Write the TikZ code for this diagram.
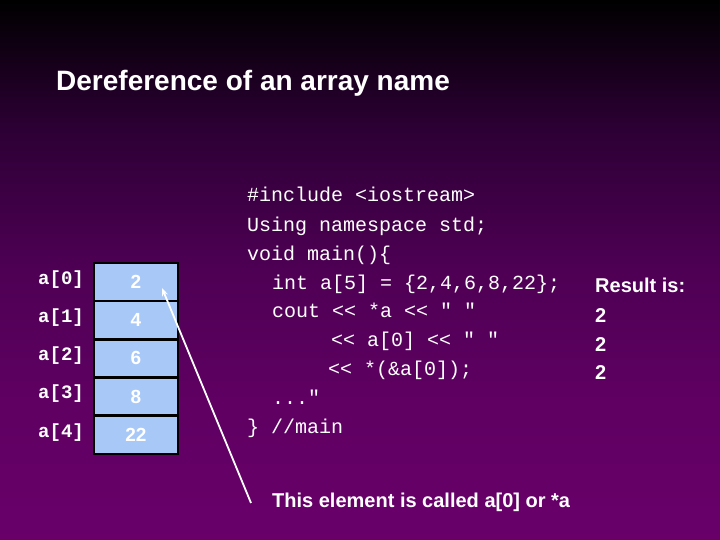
\documentclass[tikz,border=0pt]{standalone}
\usepackage{fontspec}
\setmainfont{Liberation Sans}
\setmonofont{Liberation Mono}
\usetikzlibrary{arrows.meta}
\definecolor{bgA}{RGB}{105,0,106}
\definecolor{bgB}{RGB}{95,0,98}
\definecolor{bgC}{RGB}{78,0,84}
\definecolor{bgD}{RGB}{45,0,53}
\definecolor{cellblue}{RGB}{168,200,248}
\pgfdeclareverticalshading{slidebg}{100bp}{color(0bp)=(bgA); color(25bp)=(bgA); color(37.96bp)=(bgB); color(50bp)=(bgC); color(62.96bp)=(bgD); color(75bp)=(black); color(100bp)=(black)}
\tikzset{
  cell/.style={draw=black, line width=2.5pt, fill=cellblue, minimum width=84pt,
    minimum height=38.2pt, inner sep=0pt, text=white,
    font=\bfseries\fontsize{19}{19}\selectfont},
  idxlabel/.style={anchor=base west, inner sep=0pt, text=white,
    font=\ttfamily\bfseries\fontsize{19}{19}\selectfont},
  codeline/.style={anchor=base west, inner sep=0pt, text=white,
    font=\ttfamily\fontsize{20}{20}\selectfont},
  bold20/.style={anchor=base west, inner sep=0pt, text=white,
    font=\bfseries\fontsize{20}{20}\selectfont},
  ptrarrow/.style={draw=white, line width=1.8pt, -{Stealth[length=8pt,width=6pt]}}
}
\begin{document}
\begin{tikzpicture}[x=1pt,y=-1pt]
\useasboundingbox (0,0) rectangle (720,540);
\shade[shading=slidebg] (0,0) rectangle (720,540);

% title
\node[anchor=base west, inner sep=0pt, text=white, font=\bfseries\fontsize{28}{28}\selectfont] (title) at (56,91) {Dereference of an array name};

% array cells
\foreach \i/\v in {0/2,1/4,2/6,3/8,4/22} {
  \node[cell] (c\i) at (136,{282+38.2*\i}) {\v};
}
% index labels
\node[idxlabel] (l0) at (38,284) {a[0]};
\node[idxlabel] (l1) at (38,322.5) {a[1]};
\node[idxlabel] (l2) at (38,360.5) {a[2]};
\node[idxlabel] (l3) at (38,398.5) {a[3]};
\node[idxlabel] (l4) at (38,437) {a[4]};

% code
\node[codeline] (k1) at (247,202) {\#include <iostream>};
\node[codeline] (k2) at (247,231) {Using namespace std;};
\node[codeline] (k3) at (247,260) {void main()\{};
\node[codeline] (k4) at (272,289) {int a[5] = \{2,4,6,8,22\};};
\node[codeline] (k5) at (272,317) {cout << *a << \char"0022{} \char"0022};
\node[codeline] (k6) at (331,346) {<< a[0] << \char"0022{} \char"0022};
\node[codeline] (k7) at (328,375) {<< *(\&a[0]);};
\node[codeline] (k8) at (272,404) {...\char"0022};
\node[codeline] (k9) at (247,433) {\} //main};

% result
\node[bold20] (r0) at (595,292) {Result is:};
\node[bold20] (r1) at (595,322) {2};
\node[bold20] (r2) at (595,351) {2};
\node[bold20] (r3) at (595,379) {2};

% pointer note
\node[bold20] (note) at (272,507) {This element is called a[0] or *a};
\coordinate (ptrstart) at (251,503);
\coordinate (ptrtip) at (162,288);
\draw[ptrarrow] (ptrstart) -- (ptrtip);
\end{tikzpicture}
\end{document}
